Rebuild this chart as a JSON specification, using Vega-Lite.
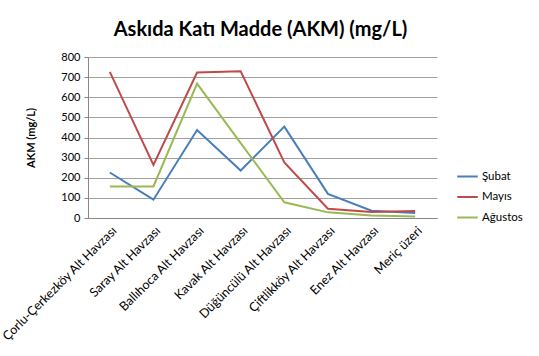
{
  "$schema": "https://vega.github.io/schema/vega-lite/v6.json",
  "autosize": "none",
  "width": 349,
  "height": 161,
  "padding": {"left": 88, "top": 57, "right": 102, "bottom": 138},
  "background": "#ffffff",
  "title": {"text": "Askıda Katı Madde (AKM) (mg/L)", "font": "Lato", "fontSize": 20, "fontWeight": "bold", "color": "#000000", "offset": 11, "anchor": "middle", "dx": -2},
  "config": {"view": {"stroke": null}},
  "data": {"values": [
    {"havza": "Çorlu-Çerkezköy Alt Havzası", "ay": "Şubat", "akm": 226},
    {"havza": "Saray Alt Havzası", "ay": "Şubat", "akm": 91},
    {"havza": "Ballıhoca Alt Havzası", "ay": "Şubat", "akm": 437},
    {"havza": "Kavak Alt Havzası", "ay": "Şubat", "akm": 236},
    {"havza": "Düğüncülü Alt Havzası", "ay": "Şubat", "akm": 454},
    {"havza": "Çiftlikköy Alt Havzası", "ay": "Şubat", "akm": 120},
    {"havza": "Enez Alt Havzası", "ay": "Şubat", "akm": 36},
    {"havza": "Meriç üzeri", "ay": "Şubat", "akm": 25},
    {"havza": "Çorlu-Çerkezköy Alt Havzası", "ay": "Mayıs", "akm": 726},
    {"havza": "Saray Alt Havzası", "ay": "Mayıs", "akm": 264},
    {"havza": "Ballıhoca Alt Havzası", "ay": "Mayıs", "akm": 723},
    {"havza": "Kavak Alt Havzası", "ay": "Mayıs", "akm": 729},
    {"havza": "Düğüncülü Alt Havzası", "ay": "Mayıs", "akm": 276},
    {"havza": "Çiftlikköy Alt Havzası", "ay": "Mayıs", "akm": 46},
    {"havza": "Enez Alt Havzası", "ay": "Mayıs", "akm": 30},
    {"havza": "Meriç üzeri", "ay": "Mayıs", "akm": 35},
    {"havza": "Çorlu-Çerkezköy Alt Havzası", "ay": "Ağustos", "akm": 157},
    {"havza": "Saray Alt Havzası", "ay": "Ağustos", "akm": 157},
    {"havza": "Ballıhoca Alt Havzası", "ay": "Ağustos", "akm": 668},
    {"havza": "Kavak Alt Havzası", "ay": "Ağustos", "akm": 372},
    {"havza": "Düğüncülü Alt Havzası", "ay": "Ağustos", "akm": 78},
    {"havza": "Çiftlikköy Alt Havzası", "ay": "Ağustos", "akm": 28},
    {"havza": "Enez Alt Havzası", "ay": "Ağustos", "akm": 12},
    {"havza": "Meriç üzeri", "ay": "Ağustos", "akm": 8}
  ]},
  "mark": {"type": "line", "strokeWidth": 2},
  "encoding": {
    "x": {"field": "havza", "type": "nominal", "sort": null,
      "scale": {"paddingInner": 0, "paddingOuter": 0.5},
      "axis": {"title": null, "labelAngle": -45, "labelAlign": "right", "labelBaseline": "top", "labelFont": "Lato", "labelFontSize": 12.5, "labelColor": "#000000", "labelPadding": 6, "ticks": false, "domainColor": "#888888", "grid": false, "labelLimit": 220}},
    "y": {"field": "akm", "type": "quantitative",
      "scale": {"domain": [0, 800], "nice": false},
      "axis": {"title": "AKM (mg/L)", "titleFont": "Lato", "titleFontSize": 11, "titleFontWeight": "bold", "titleColor": "#000000", "titlePadding": 24,
        "values": [0, 100, 200, 300, 400, 500, 600, 700, 800], "labelFont": "Lato", "labelFontSize": 11, "labelColor": "#000000", "labelPadding": 4,
        "tickSize": 4, "tickColor": "#888888", "domainColor": "#888888", "gridColor": "#a0a0a0", "gridWidth": 1}},
    "color": {"field": "ay", "type": "nominal",
      "scale": {"domain": ["Şubat", "Mayıs", "Ağustos"], "range": ["#4a7ebb", "#be4b48", "#98b954"]},
      "legend": {"title": null, "orient": "none", "legendX": 368, "legendY": 108, "symbolType": "stroke", "symbolStrokeWidth": 2, "symbolSize": 420, "rowPadding": 3.5, "labelOffset": 3, "labelFont": "Lato", "labelFontSize": 11.5, "labelColor": "#000000"}}
  }
}
